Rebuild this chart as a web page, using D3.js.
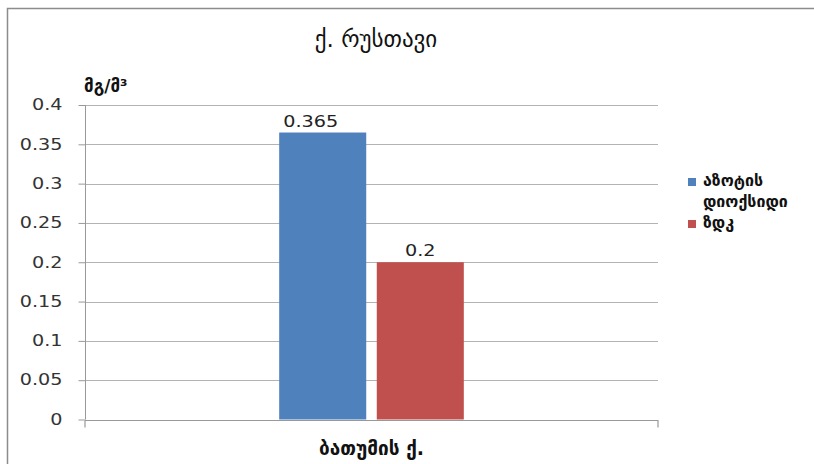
<!DOCTYPE html>
<html><head><meta charset="utf-8">
<script src="https://cdn.jsdelivr.net/npm/d3@7"></script>
<style>body{margin:0;background:#fff}svg{display:block}</style>
</head><body>
<svg id="c" width="814" height="464"></svg>
<script>
const title = "ქ. რუსთავი";
const unitLabel = "მგ/მ³";
const categories = ["ბათუმის ქ."];
const seriesNames = ["აზოტის დიოქსიდი", "ზდკ"];
const seriesValues = [[0.365], [0.2]];
const seriesColors = ["#4f81bd", "#c0504d"];
const yTicks = [0, 0.05, 0.1, 0.15, 0.2, 0.25, 0.3, 0.35, 0.4];

(function(){
const svg = d3.select("#c");
const font = "'DejaVu Sans', sans-serif";
const sx = 1.28;
svg.append("rect").attr("x",7.5).attr("y",8.5).attr("width",830).attr("height",480)
  .attr("fill","#fff").attr("stroke","#8c8c8c").attr("stroke-width",1.5);

const pL=85, pR=658, pT=105, pB=419.5;
const y = d3.scaleLinear().domain([0,0.4]).range([pB,pT]);
const x0 = d3.scaleBand().domain(categories).range([pL,pR]);
const x1 = d3.scaleBand().domain(d3.range(seriesNames.length)).range([0,x0.bandwidth()]).paddingInner(0.108).paddingOuter(1.99);

svg.append("g").selectAll("line").data(yTicks.slice(1)).join("line")
  .attr("x1",pL).attr("x2",pR).attr("y1",d=>Math.round(y(d))+0.5).attr("y2",d=>Math.round(y(d))+0.5)
  .attr("stroke","#b3b3b3").attr("stroke-width",1.2);

const ya = svg.append("g").attr("transform",`translate(${pL+0.5},0)`)
  .call(d3.axisLeft(y).tickValues(yTicks).tickFormat(d=>String(d)).tickSize(7).tickPadding(16));
ya.select(".domain").attr("stroke","#999").attr("d",`M0,${pT}V${pB}`);
ya.selectAll(".tick line").attr("stroke","#999");
ya.selectAll(".tick text").attr("font-family",font).attr("font-size",15).attr("fill","#333")
  .attr("x",-23/sx).attr("transform",`scale(${sx},1)`);

const xa = svg.append("g").attr("transform",`translate(0,${Math.round(pB)+0.5})`)
  .call(d3.axisBottom(x0).tickSize(0).tickFormat(""));
xa.select(".domain").attr("stroke","#999").attr("stroke-width",1.2).attr("d",`M${pL},0H${pR}V7M${pL},0V7`);
svg.append("text").attr("x",x0(categories[0])+x0.bandwidth()/2).attr("y",455)
  .attr("text-anchor","middle").attr("font-family",font).attr("font-weight","bold").attr("font-size",19)
  .attr("fill","#111").text(categories[0]);

seriesNames.forEach((s,i)=>{
  const g = svg.append("g");
  g.selectAll("rect").data(seriesValues[i]).join("rect")
    .attr("x",(d,j)=>x0(categories[j])+x1(i)).attr("width",x1.bandwidth())
    .attr("y",d=>y(d)).attr("height",d=>pB-y(d)).attr("fill",seriesColors[i]);
  g.selectAll("text").data(seriesValues[i]).join("text")
    .attr("transform",(d,j)=>`translate(${x0(categories[j])+x1(i)+x1.bandwidth()/2 - (i===0?12:0)},${y(d)-6}) scale(${sx},1)`)
    .attr("text-anchor","middle").attr("font-family",font).attr("font-size",15).attr("fill","#222")
    .text(d=>String(d));
});

svg.append("text").attr("x",376).attr("y",47).attr("text-anchor","middle")
  .attr("font-family",font).attr("font-size",23).attr("fill","#111").text(title);
svg.append("text").attr("x",84).attr("y",92)
  .attr("font-family",font).attr("font-weight","bold").attr("font-size",17).attr("fill","#111").text(unitLabel);

const legRows = [["აზოტის","დიოქსიდი"],["ზდკ"]];
const legY = [186, 228];
seriesNames.forEach((s,i)=>{
  svg.append("rect").attr("x",688).attr("y",legY[i]-8).attr("width",8).attr("height",8).attr("fill",seriesColors[i]);
  legRows[i].forEach((t,k)=>{
    svg.append("text").attr("x",703).attr("y",legY[i]+k*21).attr("font-family",font)
      .attr("font-weight","bold").attr("font-size",16).attr("fill","#111").text(t);
  });
});
})();
</script>
</body></html>
